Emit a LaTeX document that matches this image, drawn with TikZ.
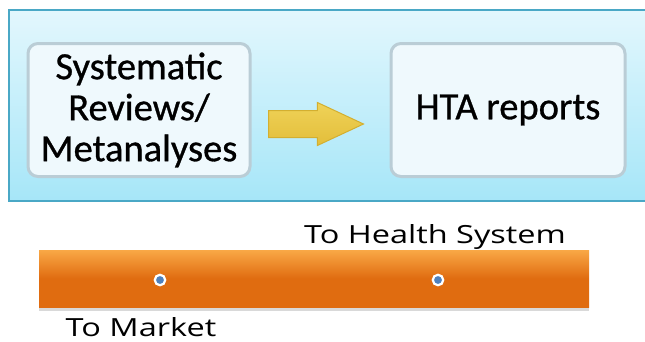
\documentclass[tikz,border=0pt]{standalone}
\usepackage{fontspec}
\setmainfont{Carlito}
\newfontfamily\cardfont[FakeBold=0.8]{Carlito}
\newfontfamily\labelfont{Open Sans}
\usepackage{tikz}
\usetikzlibrary{shapes.arrows}

\definecolor{panelborder}{HTML}{4AA8C6}
\definecolor{paneltop}{HTML}{E3F7FD}
\definecolor{panelbottom}{HTML}{A6E6F8}
\definecolor{boxfill}{HTML}{EFF9FD}
\definecolor{boxedge}{HTML}{BACDD6}
\definecolor{arrowtop}{HTML}{EFD258}
\definecolor{arrowbottom}{HTML}{E3BE3A}
\definecolor{arrowedge}{HTML}{D3AF30}
\definecolor{bartop}{HTML}{F9A846}
\definecolor{barmid}{HTML}{E06C10}
\definecolor{dotblue}{HTML}{4F81BD}

\tikzset{
    card/.style={draw=boxedge,line width=3pt,fill=boxfill,rounded corners=10pt,
        align=center,font=\cardfont\fontsize{38.5}{41}\selectfont,inner sep=0pt},
    blockarrow/.style={single arrow,draw=arrowedge,line width=1pt,
        top color=arrowtop,bottom color=arrowbottom,
        minimum height=95pt,single arrow head extend=8pt,
        single arrow tip angle=50,inner xsep=0pt,inner ysep=13pt},
    dot/.style={circle,fill=dotblue,draw=white,line width=2.2pt,
        minimum size=10.5pt,inner sep=0pt},
    lbl/.style={font=\labelfont\fontsize{25}{30}\selectfont,xscale=1.3,anchor=base,inner sep=0pt}
}

\begin{document}
\begin{tikzpicture}[x=1pt,y=-1pt]
    \clip (0,0) rectangle (645,341);
    \fill[white] (0,0) rectangle (645,341);

    \begin{scope}
    % Panel:
    \draw[draw=panelborder,line width=1.5pt,top color=paneltop,bottom color=panelbottom]
        (9,10) rectangle (660,201);

    % The two cards and the arrow between them:
    \node[card,minimum width=222pt,minimum height=133pt] (reviews) at (139,110)
        {Systematic\\Reviews/\\Metanalyses};
    \node[card,minimum width=234pt,minimum height=133pt] (hta) at (508,110)
        {HTA reports};
    \node[blockarrow,anchor=tail] (flow) at (268,124) {};
    \end{scope}

    \begin{scope}
    % Orange bar:
    \fill[black!15] (39,307) rectangle (589,311);
    \node[draw=none,minimum width=550pt,minimum height=57pt,inner sep=0pt,
        top color=bartop,bottom color=barmid,middle color=barmid,shading angle=0]
        (bar) at (314,278.5) {};

    % Points on the bar:
    \node[dot] (market) at (160,280) {};
    \node[dot] (system) at (438,280) {};

    % Labels:
    \node[lbl] (tosystem) at (435,243) {To Health System};
    \node[lbl] (tomarket) at (141,336) {To Market};
    \end{scope}
\end{tikzpicture}
\end{document}
